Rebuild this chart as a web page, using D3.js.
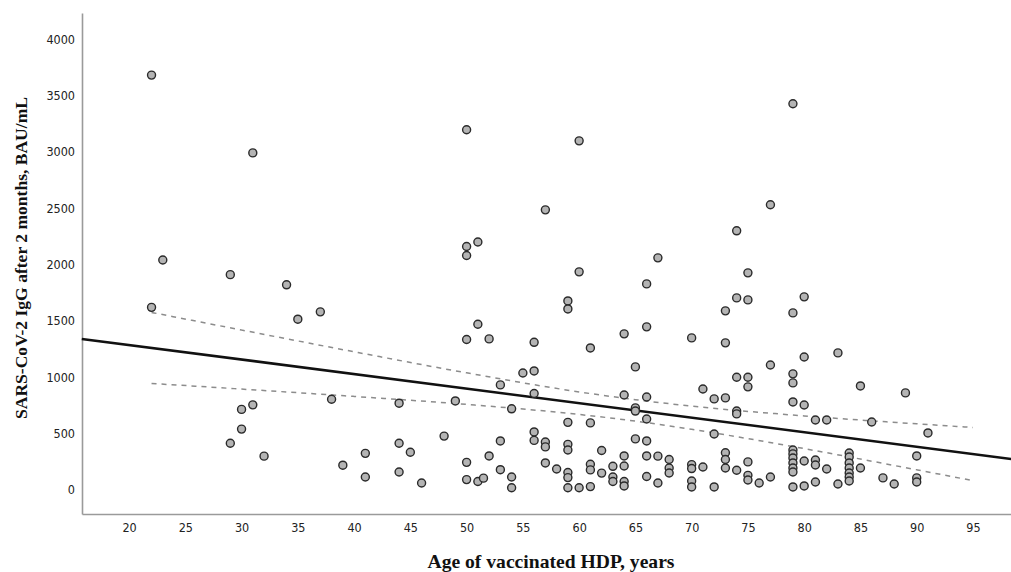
<!DOCTYPE html>
<html>
<head>
<meta charset="utf-8">
<script src="https://cdn.jsdelivr.net/npm/d3@7"></script>
<style>
  body { margin: 0; background: #fff; }
  .tick text { font-family: "DejaVu Sans Condensed", "DejaVu Sans", sans-serif; font-size: 12.5px; fill: #222; }
  .axis-title { font-family: "Liberation Serif", serif; font-weight: bold; fill: #111; }
</style>
</head>
<body>
<svg id="chart"></svg>
<script>
// ages and antibody levels
const ages = [
  22, 22, 23, 29, 29, 30, 30, 31, 31, 32, 34, 35, 37, 38, 39, 41, 41, 44, 44, 44, 45, 46, 48, 49,
  50, 50, 50, 50, 50, 50, 51, 51, 51, 51.5, 52, 52, 53, 53, 53, 54, 54, 54, 55,
  56, 56, 56, 56, 56, 57, 57, 57, 57, 58,
  59, 59, 59, 59, 59, 59, 59, 59, 60, 60, 60, 61, 61, 61, 61, 61, 62, 62, 63, 63, 63,
  64, 64, 64, 64, 64, 64, 65, 65, 65, 65, 66, 66, 66, 66, 66, 66, 66, 67, 67, 67, 68, 68, 68,
  70, 70, 70, 70, 70, 71, 71, 72, 72, 72, 73, 73, 73, 73, 73, 73,
  74, 74, 74, 74, 74, 74, 75, 75, 75, 75, 75, 75, 75, 76, 77, 77, 77,
  79, 79, 79, 79, 79, 79, 79, 79, 79, 79, 79, 79, 80, 80, 80, 80, 80, 81, 81, 81, 81, 82, 82,
  83, 83, 84, 84, 84, 84, 84, 84, 84, 85, 85, 86, 87, 88, 89, 90, 90, 90, 91
];
const igg = [
  3680, 1620, 2040, 1910, 415, 715, 540, 2990, 755, 300, 1820, 1515, 1580, 805, 220, 325, 115, 770, 415, 160, 335, 62, 478, 790,
  3195, 2160, 2080, 1335, 245, 92, 2200, 1470, 75, 105, 1340, 302, 932, 435, 180, 720, 115, 20, 1038,
  1310, 1056, 856, 515, 440, 2485, 425, 382, 240, 186,
  1677, 1606, 600, 405, 355, 155, 110, 20, 3097, 1935, 20, 1260, 595, 228, 178, 30, 350, 150, 210, 115, 75,
  1385, 843, 302, 213, 75, 36, 1092, 728, 700, 453, 1828, 1447, 825, 630, 435, 302, 120, 2059, 300, 62, 270, 195, 151,
  1349, 225, 190, 80, 27, 896, 204, 808, 497, 27, 1589, 1305, 817, 330, 270, 195,
  2299, 1704, 1000, 700, 675, 175, 1926, 1686, 1000, 915, 249, 130, 89, 62, 2530, 1109, 115,
  3426, 1571, 1030, 950, 781, 355, 320, 284, 240, 195, 160, 27, 1713, 1180, 754, 257, 36, 621, 266, 222, 71, 621, 186,
  1216, 53, 328, 293, 240, 195, 151, 115, 80, 923, 195, 603, 107, 53, 861, 302, 107, 71, 506
];

// fitted line and its 95% band
const fitAges = [15.8, 98.4];
const fitValues = [1340, 275];
const bandAges = [22, 30, 40, 50, 60, 65, 70, 80, 90, 95];
const bandUpper = [1575, 1419, 1226, 1039, 870, 801, 744, 657, 587, 555];
const bandLower = [945, 895, 830, 759, 670, 611, 538, 367, 179, 83];

const xTicks = [20, 25, 30, 35, 40, 45, 50, 55, 60, 65, 70, 75, 80, 85, 90, 95];
const yTicks = [0, 500, 1000, 1500, 2000, 2500, 3000, 3500, 4000];

const width = 1011, height = 572;
const svg = d3.select("#chart").attr("width", width).attr("height", height);

const x = d3.scaleLinear().domain([15.82, 98.38]).range([82, 1011]);
const y = d3.scaleLinear().domain([-213, 4231]).range([514, 13]);

// axes
svg.append("g")
  .attr("transform", "translate(82,0)")
  .call(d3.axisLeft(y).tickValues(yTicks).tickSize(0).tickPadding(7).tickFormat(d3.format("d")));
svg.append("g")
  .attr("transform", "translate(0,514)")
  .call(d3.axisBottom(x).tickValues(xTicks).tickSize(0).tickPadding(9).tickFormat(d3.format("d")));
svg.selectAll(".domain").attr("stroke", "#9a9a9a").attr("stroke-width", 1.6);

// confidence band
const line = d3.line().x(d => x(d[0])).y(d => y(d[1])).curve(d3.curveMonotoneX);
[bandUpper, bandLower].forEach(vals => {
  svg.append("path")
    .datum(bandAges.map((a, i) => [a, vals[i]]))
    .attr("d", line)
    .attr("fill", "none")
    .attr("stroke", "#8c8c8c")
    .attr("stroke-width", 1.5)
    .attr("stroke-dasharray", "5,5");
});

// fit line
svg.append("path")
  .datum(fitAges.map((a, i) => [a, fitValues[i]]))
  .attr("d", line)
  .attr("fill", "none")
  .attr("stroke", "#111")
  .attr("stroke-width", 2.6);

// points
svg.selectAll(".dot")
  .data(ages.map((a, i) => ({age: a, v: igg[i]})))
  .enter().append("circle")
  .attr("class", "dot")
  .attr("cx", d => x(d.age))
  .attr("cy", d => y(d.v))
  .attr("r", 4)
  .attr("fill", "#b4b4b4")
  .attr("stroke", "#2a2a2a")
  .attr("stroke-width", 1.4);

// titles
svg.append("text")
  .attr("class", "axis-title")
  .attr("x", 551)
  .attr("y", 568)
  .attr("text-anchor", "middle")
  .attr("textLength", 247)
  .attr("lengthAdjust", "spacingAndGlyphs")
  .style("font-size", "19px")
  .text("Age of vaccinated HDP, years");

svg.append("text")
  .attr("class", "axis-title")
  .attr("transform", "translate(27,258) rotate(-90)")
  .attr("text-anchor", "middle")
  .attr("textLength", 322)
  .attr("lengthAdjust", "spacingAndGlyphs")
  .style("font-size", "17px")
  .text("SARS-CoV-2 IgG after 2 months, BAU/mL");
</script>
</body>
</html>
